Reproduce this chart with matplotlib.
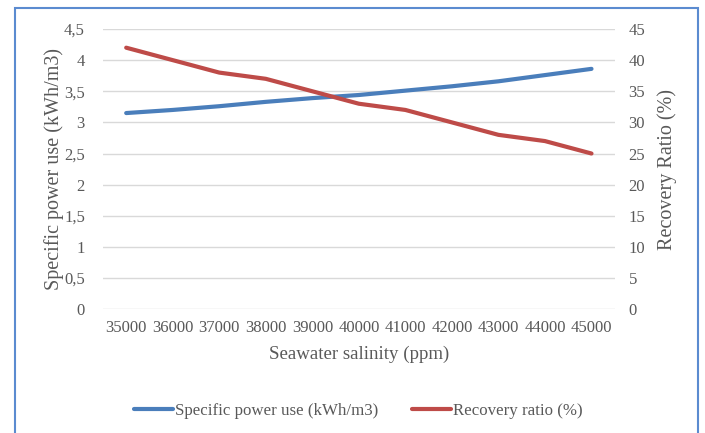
import matplotlib
matplotlib.use('Agg')
from matplotlib import pyplot as plt
from matplotlib.patches import Rectangle

salinity = [35000, 36000, 37000, 38000, 39000, 40000, 41000, 42000, 43000, 44000, 45000]
power_use = [3.15, 3.20, 3.26, 3.33, 3.39, 3.44, 3.51, 3.58, 3.66, 3.76, 3.86]
recovery = [42, 40, 38, 37, 35, 33, 32, 30, 28, 27, 25]

left_ticks = [0, 0.5, 1, 1.5, 2, 2.5, 3, 3.5, 4, 4.5]
right_ticks = [0, 5, 10, 15, 20, 25, 30, 35, 40, 45]

plt.rcParams['font.family'] = ['Liberation Serif', 'DejaVu Serif']
text_col = '#595959'
blue = '#4a7ebb'
red = '#be4b48'

fig = plt.figure(figsize=(7.05, 4.33), dpi=100)
ax = fig.add_axes([0.146, 0.286, 0.726, 0.647])
ax2 = ax.twinx()

xs = list(range(len(salinity)))
l1, = ax.plot(xs, power_use, color=blue, lw=3, solid_capstyle='round',
              label='Specific power use (kWh/m3)', zorder=3)
l2, = ax2.plot(xs, recovery, color=red, lw=3, solid_capstyle='round',
               label='Recovery ratio (%)', zorder=3)

ax.set_xlim(-0.5, len(salinity) - 0.5)
ax.set_ylim(0, 4.5)
ax2.set_ylim(0, 45)
ax.set_xticks(xs)
ax.set_xticklabels([str(s) for s in salinity], fontsize=12, color=text_col)
ax.set_yticks(left_ticks)
ax.set_yticklabels([str(t).replace('.', ',') if t % 1 else str(int(t)) for t in left_ticks],
                   fontsize=12, color=text_col)
ax2.set_yticks(right_ticks)
ax2.set_yticklabels([str(t) for t in right_ticks], fontsize=12, color=text_col)

ax.grid(axis='y', color='#d9d9d9', lw=1)
ax.set_axisbelow(True)
for a in (ax, ax2):
    for s in a.spines.values():
        s.set_visible(False)
    a.tick_params(length=0)
ax.tick_params(axis='y', pad=13)
ax.tick_params(axis='x', pad=8)
ax2.tick_params(axis='y', pad=10)

ax.set_xlabel('Seawater salinity (ppm)', fontsize=13.6, color=text_col, labelpad=7)
ax.set_ylabel('Specific power use (kWh/m3)', fontsize=14.5, color=text_col)
ax2.set_ylabel('Recovery Ratio (%)', fontsize=14.5, color=text_col)
ax.yaxis.set_label_coords(-0.076, 0.5)
ax2.yaxis.set_label_coords(1.084, 0.5)

fig.legend(handles=[l1, l2], loc='center', bbox_to_anchor=(0.5085, 0.05), ncol=2,
           frameon=False, fontsize=12.2, labelcolor=text_col, handlelength=2.3,
           handletextpad=0.1, columnspacing=2.0)

fig.patches.append(Rectangle((15 / 705, -0.05), (698 - 15) / 705, 1.05 - 8 / 433,
                             transform=fig.transFigure, fill=False,
                             edgecolor='#5b8bd0', lw=1.5, clip_on=False))

fig.savefig('out.png', dpi=100)
